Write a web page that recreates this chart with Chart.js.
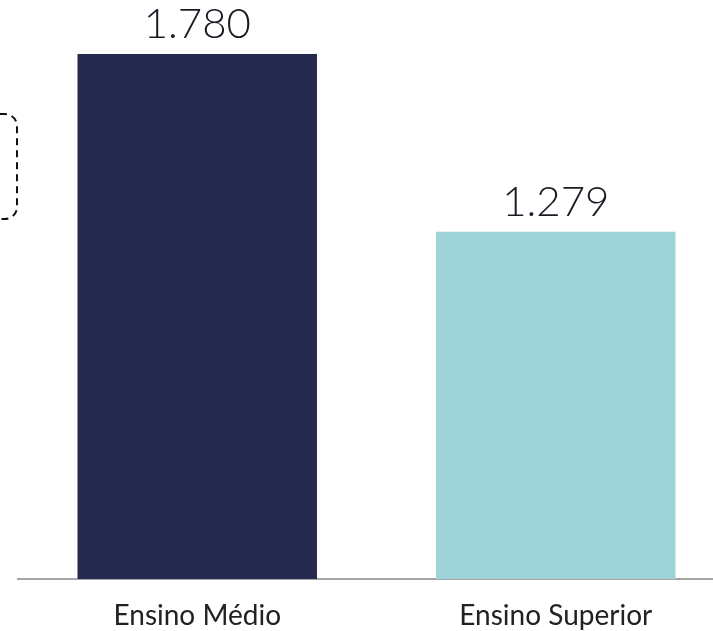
<!DOCTYPE html>
<html>
<head>
  <meta charset="utf-8">
  <title>Ensino Médio x Ensino Superior</title>
  <script src="https://cdn.jsdelivr.net/npm/chart.js"></script>
  <style>
    body { margin: 0; background: #fff; overflow: hidden; }
    #wrap { width: 713px; height: 631px; overflow: hidden; }
  </style>
</head>
<body>
  <div id="wrap"><canvas id="chart" width="735" height="631"></canvas></div>

  <script>
    // data
    const categories = ['Ensino Médio', 'Ensino Superior'];
    const values = [1780, 1279];
    const valueLabels = ['1.780', '1.279'];
    const barColors = ['#25294d', '#9ed3d7'];

    const fontFamily = "'Lato', 'Noto Sans', sans-serif";

    // value labels above bars + the cut-off dashed box on the left
    const extras = {
      id: 'extras',
      afterDatasetsDraw(chart) {
        const ctx = chart.ctx;
        const meta = chart.getDatasetMeta(0);
        ctx.save();
        ctx.fillStyle = '#1a1a24';
        ctx.font = '300 42px ' + fontFamily;
        ctx.textAlign = 'center';
        ctx.textBaseline = 'alphabetic';
        meta.data.forEach((bar, i) => {
          ctx.fillText(valueLabels[i], bar.x, bar.y - 16);
        });
        ctx.restore();

        ctx.save();
        ctx.strokeStyle = '#111';
        ctx.lineWidth = 2;
        ctx.setLineDash([7, 5]);
        ctx.beginPath();
        ctx.roundRect(-60, 114, 77, 105, 12);
        ctx.stroke();
        ctx.restore();
      }
    };

    new Chart(document.getElementById('chart'), {
      type: 'bar',
      data: {
        labels: categories,
        datasets: [{
          data: values,
          backgroundColor: barColors,
          barPercentage: 0.668,
          categoryPercentage: 1
        }]
      },
      options: {
        responsive: false,
        animation: false,
        layout: { padding: { top: 54, left: 18, right: 0, bottom: 0 } },
        plugins: { legend: { display: false }, tooltip: { enabled: false } },
        scales: {
          x: {
            grid: { display: false, drawTicks: false },
            border: { display: true, color: '#a6a6a6', width: 2 },
            ticks: { color: '#222', padding: 20, font: { size: 28, family: fontFamily } },
            afterFit(scale) { scale.height = 52; }
          },
          y: {
            display: false,
            min: 300,
            max: 1780
          }
        }
      },
      plugins: [extras]
    });
  </script>
</body>
</html>
